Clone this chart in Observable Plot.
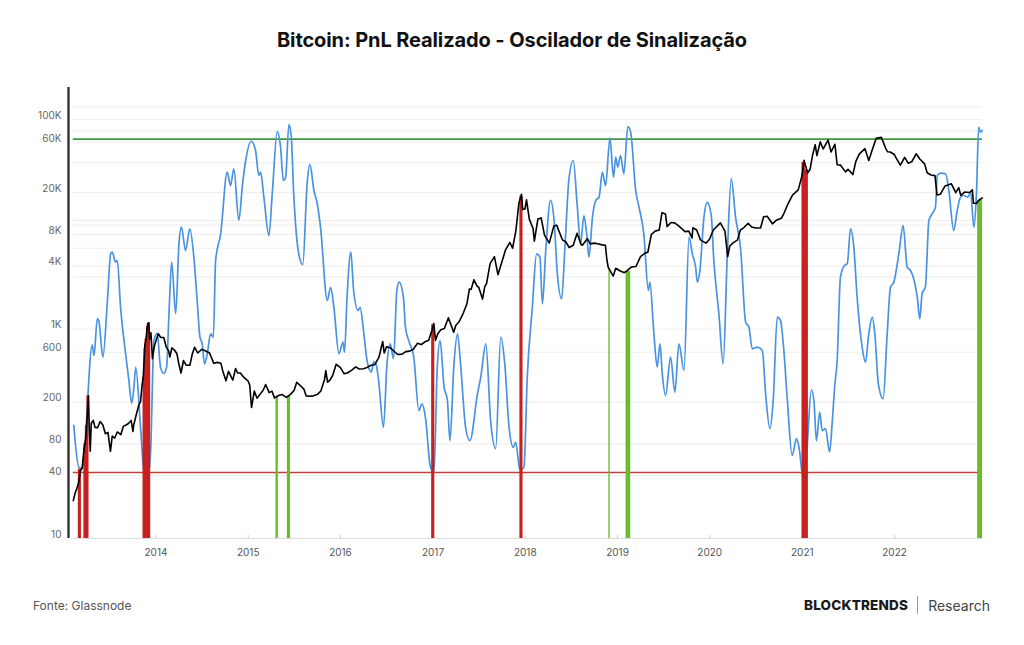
<!DOCTYPE html>
<html>
<head>
<meta charset="utf-8">
<script src="https://cdn.jsdelivr.net/npm/d3@7"></script>
<script src="https://cdn.jsdelivr.net/npm/@observablehq/plot@0.6"></script>
<style>
  html, body { margin: 0; padding: 0; background: #fff; }
  body { width: 1024px; height: 645px; overflow: hidden; position: relative; font-family: Inter, "Noto Sans", sans-serif; }
  #title { position: absolute; top: 0; left: 0; width: 1024px; height: 75px; display: flex; align-items: center; justify-content: center; padding-top: 5px; box-sizing: border-box; font-weight: 700; font-size: 20px; color: #111; letter-spacing: -0.1px; }
  #chart { position: absolute; top: 75px; left: 0; }
  #source { position: absolute; left: 33px; top: 598px; font-size: 12px; color: #555; }
  #brand { position: absolute; right: 34px; top: 596px; display: flex; align-items: center; font-size: 14px; }
  #brand .b { font-weight: 800; color: #1a1a1a; letter-spacing: 0.2px; font-size: 13.5px; }
  #brand .sep { width: 1px; height: 18px; background: #999; margin: 0 10px 0 9px; }
  #brand .r { color: #444; }
</style>
</head>
<body>
<div id="title">Bitcoin: PnL Realizado - Oscilador de Sinalização</div>
<div id="chart"></div>
<div id="source">Fonte: Glassnode</div>
<div id="brand"><span class="b">BLOCKTRENDS</span><span class="sep"></span><span class="r">Research</span></div>
<script>
// ---------- data ----------
const yTicks = [10, 40, 80, 200, 600, 1000, 4000, 8000, 20000, 60000, 100000];
const extraGrid = [132000, 78000, 38800, 10900, 9800, 5900, 3150];
const yearTicks = ["2014","2015","2016","2017","2018","2019","2020","2021","2022"];
const redThreshold = 42.7;
const greenThreshold = 64900;
const xStart = "2013-01-20", xEnd = "2022-12-15", dataStart = "2013-02-08";

// BTC price (USD)
const price = [
["2013-02-08",23],["2013-02-15",27],["2013-02-22",30],["2013-03-01",34],["2013-03-08",44],["2013-03-15",47],["2013-03-22",70],["2013-03-29",90],["2013-04-03",135],["2013-04-09",230],["2013-04-12",117],["2013-04-16",68],["2013-04-20",126],["2013-04-28",134],["2013-05-05",115],["2013-05-15",114],["2013-05-25",131],["2013-06-05",121],["2013-06-15",100],["2013-06-25",103],["2013-07-05",68],["2013-07-12",95],["2013-07-22",91],["2013-08-01",104],["2013-08-15",98],["2013-08-25",118],["2013-09-05",121],["2013-09-15",126],["2013-09-25",134],["2013-10-02",105],["2013-10-05",121],["2013-10-15",152],["2013-10-25",187],["2013-11-01",203],["2013-11-07",290],["2013-11-12",355],["2013-11-18",700],["2013-11-22",780],["2013-11-29",1120],["2013-12-04",1150],["2013-12-07",800],["2013-12-12",920],["2013-12-18",520],["2013-12-25",680],
["2014-01-01",770],["2014-01-10",900],["2014-01-20",830],["2014-02-01",830],["2014-02-10",680],["2014-02-20",620],["2014-02-25",540],["2014-03-05",660],["2014-03-15",630],["2014-03-25",580],["2014-04-01",470],["2014-04-10",380],["2014-04-20",500],["2014-05-01",450],["2014-05-15",450],["2014-05-25",580],["2014-06-03",670],["2014-06-15",590],["2014-07-01",640],["2014-07-15",620],["2014-08-01",590],["2014-08-18",470],["2014-09-01",480],["2014-09-15",470],["2014-09-22",400],["2014-10-05",320],["2014-10-15",395],["2014-11-01",325],["2014-11-12",420],["2014-11-20",380],["2014-12-01",380],["2014-12-15",345],["2014-12-31",320],
["2015-01-07",290],["2015-01-14",178],["2015-01-25",255],["2015-02-05",218],["2015-02-15",235],["2015-03-01",260],["2015-03-11",295],["2015-03-25",247],["2015-04-05",255],["2015-04-15",220],["2015-05-01",232],["2015-05-15",237],["2015-06-01",222],["2015-06-15",235],["2015-07-01",258],["2015-07-12",310],["2015-07-25",290],["2015-08-10",265],["2015-08-18",230],["2015-09-01",228],["2015-09-15",230],["2015-10-01",237],["2015-10-15",255],["2015-10-30",330],["2015-11-04",400],["2015-11-11",310],["2015-11-20",325],["2015-12-01",360],["2015-12-15",460],["2015-12-31",430],
["2016-01-15",375],["2016-01-28",380],["2016-02-15",405],["2016-03-01",435],["2016-03-15",415],["2016-04-01",417],["2016-04-15",430],["2016-05-01",450],["2016-05-15",455],["2016-06-01",535],["2016-06-16",760],["2016-06-22",590],["2016-07-01",675],["2016-07-15",665],["2016-08-01",610],["2016-08-15",570],["2016-09-01",575],["2016-09-15",608],["2016-10-01",615],["2016-10-15",640],["2016-11-01",730],["2016-11-15",710],["2016-12-01",755],["2016-12-15",780],["2016-12-28",975],
["2017-01-04",1130],["2017-01-11",780],["2017-01-20",900],["2017-02-01",985],["2017-02-15",1010],["2017-03-03",1280],["2017-03-24",930],["2017-04-01",1080],["2017-04-15",1180],["2017-05-01",1420],["2017-05-15",1730],["2017-05-25",2400],["2017-06-01",2400],["2017-06-12",2950],["2017-06-25",2550],["2017-07-01",2500],["2017-07-16",1930],["2017-07-25",2550],["2017-08-01",2720],["2017-08-15",4200],["2017-09-01",4900],["2017-09-15",3300],["2017-10-01",4400],["2017-10-15",5700],["2017-11-01",6700],["2017-11-12",5900],["2017-11-25",8700],["2017-12-07",16000],["2017-12-17",19300],["2017-12-22",13800],["2017-12-31",14000],
["2018-01-06",17100],["2018-01-17",11200],["2018-02-01",9100],["2018-02-06",6900],["2018-02-20",11200],["2018-03-05",11500],["2018-03-18",7900],["2018-04-06",6600],["2018-04-24",9600],["2018-05-05",9800],["2018-05-28",7100],["2018-06-10",6800],["2018-06-24",6000],["2018-07-10",6300],["2018-07-25",8200],["2018-08-10",6400],["2018-08-15",6300],["2018-09-04",7300],["2018-09-15",6500],["2018-10-01",6600],["2018-10-15",6500],["2018-11-01",6350],["2018-11-14",6300],["2018-11-20",4600],["2018-11-25",3900],["2018-12-15",3200],["2018-12-25",3800],
["2019-01-10",3600],["2019-01-28",3450],["2019-02-08",3600],["2019-02-24",3900],["2019-03-15",3950],["2019-04-02",4900],["2019-04-20",5300],["2019-05-01",5400],["2019-05-15",8000],["2019-05-30",8600],["2019-06-15",8800],["2019-06-26",12900],["2019-07-10",12500],["2019-07-16",9500],["2019-08-01",10400],["2019-08-15",10300],["2019-09-01",9600],["2019-09-25",8500],["2019-10-10",8600],["2019-10-23",7400],["2019-10-26",9250],["2019-11-10",8800],["2019-11-25",7100],["2019-12-17",6600],["2019-12-31",7200],
["2020-01-15",8800],["2020-02-12",10300],["2020-03-01",8600],["2020-03-12",4900],["2020-03-20",6200],["2020-04-01",6600],["2020-04-20",7100],["2020-05-01",8800],["2020-05-15",9300],["2020-06-01",10200],["2020-06-15",9400],["2020-07-01",9200],["2020-07-20",9200],["2020-08-01",11800],["2020-08-15",11900],["2020-09-05",10100],["2020-09-20",10900],["2020-10-10",11400],["2020-10-21",12800],["2020-11-05",15600],["2020-11-24",19100],["2020-12-01",19700],["2020-12-16",21300],["2020-12-31",29000],
["2021-01-08",40700],["2021-01-22",30800],["2021-02-01",33500],["2021-02-10",44800],["2021-02-21",57500],["2021-02-28",45200],["2021-03-13",61200],["2021-03-25",52300],["2021-04-13",63500],["2021-04-25",49000],["2021-05-10",58000],["2021-05-19",37000],["2021-06-01",36700],["2021-06-21",31600],["2021-07-01",33500],["2021-07-20",29800],["2021-08-01",39900],["2021-08-15",47000],["2021-09-06",52700],["2021-09-21",40700],["2021-10-01",48100],["2021-10-20",66000],["2021-11-10",67500],["2021-11-26",53700],["2021-12-04",49200],["2021-12-15",48900],["2021-12-31",46300],
["2022-01-10",41800],["2022-01-24",36600],["2022-02-10",43500],["2022-02-24",38300],["2022-03-10",39400],["2022-03-28",47100],["2022-04-10",42200],["2022-04-30",37700],["2022-05-10",31000],["2022-05-25",29500],["2022-06-10",29100],["2022-06-18",19000],["2022-07-01",19300],["2022-07-20",23200],["2022-08-14",24300],["2022-08-31",20000],["2022-09-12",22300],["2022-09-20",18900],["2022-10-05",20300],["2022-10-25",20100],["2022-11-05",21300],["2022-11-09",15900],["2022-11-21",15800],["2022-12-01",17000],["2022-12-14",17800]
];

// Realized PnL oscillator, read in units of the chart's price axis
const oscillator = [
["2013-02-10",120],["2013-03-02",48],["2013-03-16",47],["2013-04-24",700],["2013-05-01",560],["2013-05-14",1260],["2013-05-20",1200],["2013-06-05",540],["2013-06-23",1870],["2013-07-06",5260],["2013-07-12",5410],["2013-07-25",4350],["2013-08-01",4500],["2013-08-14",1610],["2013-09-03",580],["2013-09-16",320],["2013-09-27",195],["2013-10-06",280],["2013-10-13",430],["2013-11-01",115],["2013-11-14",45],["2013-11-30",38],["2013-12-11",69],["2013-12-24",780],
["2014-01-06",910],["2014-01-19",430],["2014-02-01",376],["2014-02-12",430],["2014-02-21",1300],["2014-03-04",4350],["2014-03-20",1400],["2014-04-02",6500],["2014-04-12",9400],["2014-04-28",5600],["2014-05-15",9050],["2014-05-31",4850],["2014-06-13",1870],["2014-06-24",835],["2014-07-03",720],["2014-07-12",465],["2014-07-23",580],["2014-08-05",900],["2014-08-16",835],["2014-08-25",4500],["2014-09-14",8100],["2014-10-10",31400],["2014-10-23",23400],["2014-11-05",33800],["2014-11-25",10900],["2014-12-09",23400],["2014-12-22",40600],
["2015-01-13",62000],["2015-01-30",50600],["2015-02-12",29200],["2015-02-19",31400],["2015-03-04",18100],["2015-03-24",7800],["2015-04-06",19500],["2015-04-26",76800],["2015-05-09",54400],["2015-05-20",26200],["2015-05-29",28100],["2015-06-11",89600],["2015-06-20",70300],["2015-06-30",19500],["2015-07-20",5200],["2015-08-05",4130],["2015-08-22",24300],["2015-09-02",37200],["2015-09-18",21000],["2015-10-01",15700],["2015-10-14",9400],["2015-11-10",1870],["2015-11-23",2500],["2015-12-06",1610],["2015-12-26",580],
["2016-01-11",750],["2016-01-17",600],["2016-01-27",2010],["2016-02-11",5410],["2016-02-22",2330],["2016-03-11",1500],["2016-03-19",1610],["2016-04-01",970],["2016-04-15",500],["2016-05-02",387],["2016-05-11",482],["2016-05-20",465],["2016-05-31",322],["2016-06-19",115],["2016-07-03",465],["2016-07-16",720],["2016-07-29",520],["2016-08-11",2330],["2016-08-20",2800],["2016-09-06",2010],["2016-09-14",1040],["2016-09-27",776],["2016-10-17",538],["2016-11-06",167],["2016-11-19",193],["2016-12-02",144],["2016-12-22",48],
["2017-01-05",43],["2017-01-18",432],["2017-01-29",776],["2017-02-14",278],["2017-02-27",208],["2017-03-09",86],["2017-03-25",465],["2017-04-08",900],["2017-04-21",432],["2017-05-10",115],["2017-05-27",86],["2017-06-26",240],["2017-07-09",347],["2017-07-29",722],["2017-08-17",134],["2017-09-06",72],["2017-09-26",835],["2017-10-12",465],["2017-10-29",115],["2017-11-15",74],["2017-11-24",83],["2017-12-11",45],["2017-12-27",48],
["2018-01-09",347],["2018-01-29",1610],["2018-02-15",5220],["2018-02-28",4850],["2018-03-10",1740],["2018-03-23",5600],["2018-04-11",16900],["2018-04-25",10900],["2018-05-08",3370],["2018-05-25",1940],["2018-06-07",6040],["2018-06-23",27200],["2018-07-10",40600],["2018-07-26",14600],["2018-08-08",6500],["2018-08-21",12100],["2018-09-01",8100],["2018-09-10",4850],["2018-09-24",11700],["2018-10-07",16900],["2018-10-20",18100],["2018-11-02",31400],["2018-11-15",23400],["2018-12-02",66900],["2018-12-16",28100],["2018-12-25",43700],
["2019-01-02",35100],["2019-01-13",45300],["2019-01-26",30300],["2019-02-11",85700],["2019-02-22",75700],["2019-03-14",21000],["2019-03-27",14600],["2019-04-15",8100],["2019-05-03",2330],["2019-05-09",2800],["2019-05-25",900],["2019-06-07",432],["2019-06-18",722],["2019-06-27",376],["2019-07-10",232],["2019-07-30",538],["2019-08-16",249],["2019-09-01",722],["2019-09-21",402],["2019-10-11",7520],["2019-10-24",5220],["2019-11-06",3890],["2019-11-13",2800],["2019-11-23",3620],["2019-12-09",11700],["2019-12-22",16200],
["2020-01-07",12100],["2020-01-17",4510],["2020-02-06",1400],["2020-02-23",465],["2020-03-10",4850],["2020-03-26",27200],["2020-04-12",11700],["2020-05-02",5830],["2020-05-22",1160],["2020-06-04",1040],["2020-06-17",647],["2020-07-07",670],["2020-07-27",624],["2020-08-09",240],["2020-08-26",112],["2020-09-08",208],["2020-09-24",1300],["2020-10-07",1200],["2020-10-20",624],["2020-11-03",208],["2020-11-22",62],["2020-12-09",90],["2020-12-19",74],
["2021-01-06",36],["2021-01-19",69],["2021-02-06",263],["2021-02-16",208],["2021-02-26",86],["2021-03-11",161],["2021-03-21",107],["2021-04-03",112],["2021-04-19",67],["2021-04-30",134],["2021-05-09",278],["2021-05-19",500],["2021-06-01",3120],["2021-06-17",4040],["2021-06-28",4190],["2021-07-11",9060],["2021-07-24",6040],["2021-08-06",2010],["2021-08-26",670],["2021-09-08",482],["2021-09-21",900],["2021-10-05",1300],["2021-10-15",900],["2021-10-29",300],["2021-11-17",216],["2021-12-03",900],["2021-12-16",2510],["2021-12-29",2800],
["2022-01-18",5220],["2022-02-04",9730],["2022-02-20",3890],["2022-03-05",3620],["2022-03-18",3010],["2022-04-01",2010],["2022-04-11",1250],["2022-04-20",2170],["2022-05-03",2510],["2022-05-17",10900],["2022-05-30",12600],["2022-06-12",14600],["2022-06-19",29200],["2022-07-02",30700],["2022-07-22",30300],["2022-08-04",21000],["2022-08-23",8710],["2022-09-06",13500],["2022-09-19",18100],["2022-10-02",18800],["2022-10-18",18100],["2022-10-29",20200],["2022-11-11",9380],["2022-11-21",19500],["2022-11-30",84500],["2022-12-07",75700],["2022-12-14",78600]
];

// Signal bars: [start, end, price reached, kind]
const signals = [
["2013-03-01","2013-03-11",46,"sell"],
["2013-03-23","2013-03-29",80,"sell"],["2013-03-29","2013-04-04",120,"sell"],["2013-04-04","2013-04-10",230,"sell"],
["2013-11-12","2013-11-16",350,"sell"],["2013-11-16","2013-11-20",650,"sell"],["2013-11-20","2013-11-26",800,"sell"],["2013-11-26","2013-12-02",1050,"sell"],["2013-12-02","2013-12-06",1130,"sell"],["2013-12-06","2013-12-10",900,"sell"],
["2016-12-28","2017-01-07",1100,"sell"],
["2017-12-12","2017-12-22",18500,"sell"],
["2021-01-01","2021-01-12",39000,"sell"],["2021-01-12","2021-01-24",33000,"sell"],
["2015-04-22","2015-04-29",225,"buy"],
["2015-06-06","2015-06-16",230,"buy"],
["2018-11-29","2018-12-02",3800,"buy"],
["2019-02-05","2019-02-21",3550,"buy"],
["2022-11-27","2022-12-14",16900,"buy"]
];

// ---------- build ----------
const D = s => new Date(s + "T00:00:00Z");
const priceData = price.map(([d, v]) => ({date: D(d), value: v}));
const oscData = oscillator.map(([d, v]) => ({date: D(d), value: v}));
const sigData = signals.map(([a, b, v, k]) => ({x1: D(a), x2: D(b), top: v, kind: k}));
const gridData = yTicks.concat(extraGrid);
const yMin = 10, yMax = 202000;
const fmt = v => v >= 1000 ? (v / 1000) + "K" : String(v);

const chart = Plot.plot({
  width: 1024,
  height: 500,
  marginTop: 12,
  marginBottom: 37,
  marginLeft: 68,
  marginRight: 42,
  style: {fontFamily: "Inter, 'Noto Sans', sans-serif", background: "#fff", overflow: "visible"},
  x: {type: "utc", domain: [D(xStart), D(xEnd)], axis: null},
  y: {type: "log", domain: [yMin, yMax], axis: null},
  marks: [
    Plot.ruleY(gridData, {y: d => d, x1: D(dataStart), x2: D(xEnd), stroke: "#efefef", strokeWidth: 1.2}),
    Plot.ruleY([yMin], {x1: D(dataStart), x2: D(xEnd), stroke: "#dcdcdc", strokeWidth: 1.2}),
    Plot.ruleX(yearTicks.map(y => D(y + "-01-01")), {x: d => d, y1: yMin, y2: 10.7, stroke: "#cfcfcf"}),
    Plot.ruleY([redThreshold], {x1: D(dataStart), x2: D(xEnd), stroke: "#c0403a", strokeWidth: 1.6}),
    Plot.ruleY([greenThreshold], {x1: D(dataStart), x2: D(xEnd), stroke: "#3c9a3c", strokeWidth: 1.6}),
    Plot.line(oscData, {x: "date", y: "value", stroke: "#4a93e0", strokeWidth: 1.7, curve: "monotone-x"}),
    Plot.rectY(sigData, {x1: "x1", x2: "x2", y1: yMin, y2: "top", fill: d => d.kind === "sell" ? "#c8201f" : "#6cbb2b", insetLeft: -0.3, insetRight: -0.3}),
    Plot.line(priceData, {x: "date", y: "value", stroke: "#000", strokeWidth: 1.6}),
    Plot.ruleX([D(xStart)], {stroke: "#333", strokeWidth: 2.4}),
    Plot.text(yTicks, {x: D(xStart), y: d => d, text: fmt, dx: -7, dy: -4, textAnchor: "end", fontSize: 10, fill: "#666"}),
    Plot.text(yearTicks, {x: d => D(d + "-01-01"), y: yMin, text: d => d, dy: 14, fontSize: 10, fill: "#555"})
  ]
});
document.getElementById("chart").appendChild(chart);
</script>
</body>
</html>
